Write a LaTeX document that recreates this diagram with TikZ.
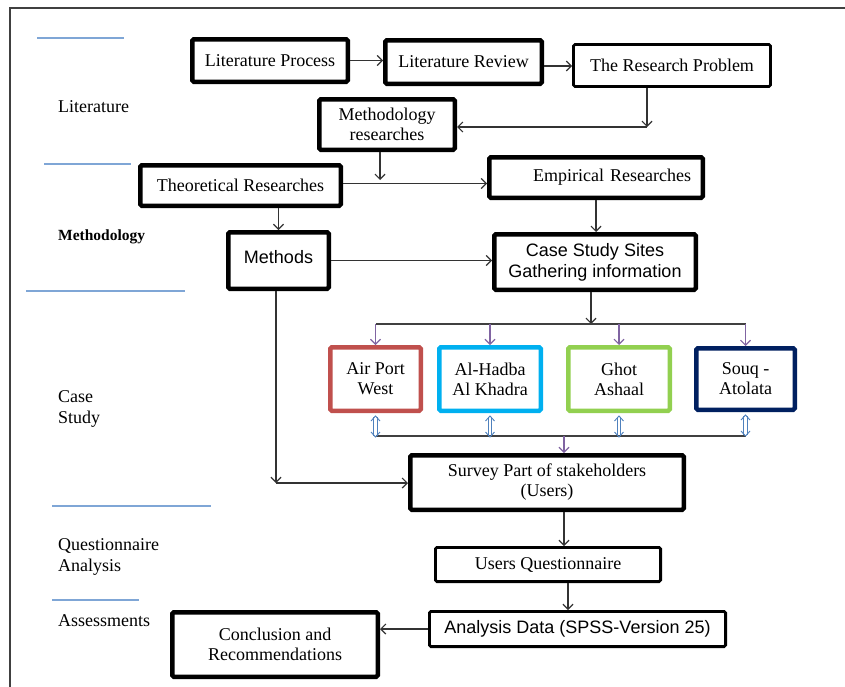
\documentclass[tikz,border=0pt]{standalone}
\usepackage{fontspec}
\setmainfont{Liberation Serif}
\setsansfont{Liberation Sans}
\usetikzlibrary{arrows.meta}
\definecolor{bluel}{HTML}{7FA6D6}
\definecolor{apred}{HTML}{C0504D}
\definecolor{ahcyan}{HTML}{00B0F0}
\definecolor{gagreen}{HTML}{92D050}
\definecolor{sanavy}{HTML}{002060}
\definecolor{purp}{HTML}{8064A2}
\definecolor{dblue}{HTML}{4F81BD}
\tikzset{
  box/.style={draw=black, line width=4.5pt, rounded corners=1.5pt, fill=white, inner sep=0pt, align=center, font=\fontsize{18}{20}\selectfont},
  mbox/.style={box, line width=2.8pt},
  cbox/.style={box, line width=4.5pt},
  sbox/.style={box, font=\sffamily\fontsize{18}{21}\selectfont},
  conn/.style={draw=black!80, line width=1.2pt, -{Straight Barb[length=5pt,width=10pt,line width=1.2pt]}},
  plain/.style={draw=black!75, line width=1.2pt},
  parrow/.style={draw=purp, line width=1.1pt, -{Straight Barb[length=5pt,width=10pt,line width=1.1pt]}},
  dbl/.style={draw=dblue, line width=0.9pt, line join=miter},
  sect/.style={draw=bluel, line width=1.5pt},
  lab/.style={anchor=west, inner sep=0pt, align=left, font=\fontsize{18}{21}\selectfont},
}
\begin{document}
\begin{tikzpicture}[x=1pt, y=-1pt]
\useasboundingbox (0,0) rectangle (845,686);
% frame
\draw[draw=black!75, line width=2pt] (10,690) -- (10,7.5) -- (850,7.5);
% section lines
\draw[sect] (37,38) -- (124,38);
\draw[sect] (44,164) -- (131,164);
\draw[sect] (26,291) -- (185,291);
\draw[sect] (52,506) -- (211,506);
\draw[sect] (52,600) -- (139,600);
% section labels
\node[lab] (lLit) at (58,107) {Literature};
\node[lab, font=\bfseries\fontsize{15.5}{18}\selectfont] (lMeth) at (58,237) {Methodology};
\node[lab] (lCase) at (58,409) {Case\\Study};
\node[lab] (lQA) at (58,557) {Questionnaire\\Analysis};
\node[lab] (lAss) at (58,621) {Assessments};
% boxes
\node[box, minimum width=155.5pt, minimum height=42.5pt] (LP) at (270,60.5) {Literature Process};
\node[box, minimum width=156.5pt, minimum height=43.5pt] (LR) at (463.5,62) {Literature Review};
\node[mbox, minimum width=197pt, minimum height=42pt] (RP) at (672,65.5) {The Research Problem};
\node[box, minimum width=135.5pt, minimum height=50.5pt] (MR) at (387,124.5) {Methodology\\researches};
\node[box, minimum width=200.5pt, minimum height=40.5pt] (TR) at (240.5,185.5) {Theoretical Researches};
\node[box, minimum width=213.5pt, minimum height=40.5pt, text width=190pt, align=right] (ER) at (596,177.5) {Empirical Researches\hspace*{4pt}};
\node[sbox, minimum width=100.5pt, minimum height=56.5pt] (ME) at (278.5,260.5) {\raisebox{7pt}{Methods}};
\node[sbox, minimum width=201.5pt, minimum height=55.5pt] (CS) at (595,262) {Case Study Sites\\Gathering information};
\node[cbox, draw=apred, minimum width=90.5pt, minimum height=63.5pt] (AP) at (375.5,379) {Air Port\\West};
\node[cbox, draw=ahcyan, minimum width=101.5pt, minimum height=63.5pt] (AH) at (490,379) {Al-Hadba\\Al Khadra};
\node[cbox, draw=gagreen, minimum width=101.5pt, minimum height=63.5pt] (GA) at (619,379) {Ghot\\Ashaal};
\node[cbox, draw=sanavy, minimum width=98.5pt, minimum height=61.5pt] (SA) at (745.5,379) {Souq -\\Atolata};
\node[box, minimum width=273.5pt, minimum height=54.5pt] (SU) at (547,482.5) {Survey Part of stakeholders\\(Users)};
\node[mbox, minimum width=225.2pt, minimum height=34.2pt] (UQ) at (548,564.5) {Users Questionnaire};
\node[mbox, sbox, line width=2.8pt, minimum width=296.2pt, minimum height=35.2pt] (AD) at (577.5,629) {Analysis Data (SPSS-Version 25)};
\node[box, minimum width=205.5pt, minimum height=64.5pt] (CR) at (275,644.5) {Conclusion and\\Recommendations};
% coordinates
\coordinate (c1) at (647,127);
\coordinate (c2) at (380,180);
\coordinate (c3) at (276,483);
\coordinate (j1) at (591,324);
\coordinate (j2) at (564,436);
\coordinate (j3) at (568,600);
% connectors
\draw[conn] (LP.east) -- (LP.east -| LR.west);
\draw[conn] ([yshift=-4pt]LR.east) -- ([yshift=-4pt]LR.east -| RP.west);
\draw[conn] (RP.south -| c1) -- (c1);
\draw[conn] (c1) -- (c1 -| MR.east);
\draw[conn] (MR.south -| c2) -- (c2);
\draw[conn] ([yshift=2pt]TR.east) -- ([yshift=2pt]TR.east -| ER.west);
\draw[conn] (TR.south -| ME.north) -- (ME.north);
\draw[conn] (ER.south) -- (ER.south |- CS.north);
\draw[conn] (ME.east) -- (ME.east -| CS.west);
\draw[conn] (ME.south -| c3) -- (c3);
\draw[conn] (c3) -- (c3 -| SU.west);
% distribution to sites
\draw[conn] (CS.south -| j1) -- (j1);
\draw[plain] (AP.north |- j1) -- (SA.north |- j1);
\draw[parrow] (AP.north |- j1) -- (AP.north);
\draw[parrow] (AH.north |- j1) -- (AH.north);
\draw[parrow] (GA.north |- j1) -- (GA.north);
\draw[parrow] (SA.north |- j1) -- (SA.north);
% collection from sites
\draw[plain] (AP.south |- j2) -- (SA.south |- j2);
\foreach \n in {AP,AH,GA,SA}{
  \begin{scope}[shift={(\n.south)}]
    \draw[dbl] (-1.6,4) -- (-1.6,23) (1.6,4) -- (1.6,23);
    \draw[dbl] (-4.5,8) -- (0,3) -- (4.5,8);
    \draw[dbl] (-4.5,19) -- (0,24) -- (4.5,19);
  \end{scope}
}
\draw[parrow] (j2) -- (j2 |- SU.north);
% bottom chain
\draw[conn] (j2 |- SU.south) -- (j2 |- UQ.north);
\draw[conn] (j3 |- UQ.south) -- (j3 |- AD.north);
\draw[conn] (AD.west) -- (AD.west -| CR.east);
\end{tikzpicture}
\end{document}
